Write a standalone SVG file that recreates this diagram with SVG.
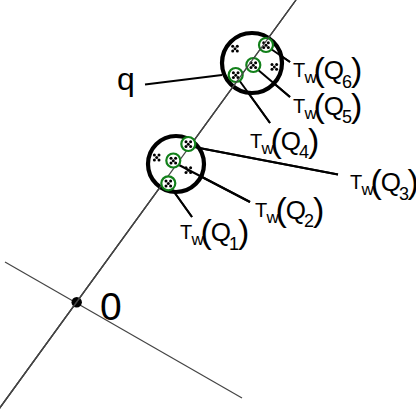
<svg xmlns="http://www.w3.org/2000/svg" width="416" height="409" viewBox="0 0 416 409">
<defs>
<style>
.axis{stroke:#444;stroke-width:1.2;fill:none}
.lead{stroke:#000;stroke-width:2;fill:none}
.big{stroke:#000;stroke-width:4.2;fill:#fff}
.grn{stroke:#12801a;stroke-width:2.2;fill:#fff}
.dot{fill:#000}
text{font-family:"Liberation Sans",Arial,sans-serif;fill:#000}
.t{font-size:20px}
.w{font-size:17px}
.p{font-size:34px}
.q{font-size:26px}
.s{font-size:18px}
</style>
<g id="cl">
<circle cx="-2.3" cy="-2.3" r="1.5"/><circle cx="2.3" cy="-2.3" r="1.5"/><circle cx="0" cy="0.2" r="1.5"/><circle cx="-2.3" cy="2.6" r="1.5"/><circle cx="2.3" cy="2.6" r="1.5"/>
</g>
</defs>
<rect width="416" height="409" fill="#fff"/>
<g id="connectors">
<line class="axis" x1="296" y1="0" x2="-1" y2="409"/>
<line class="axis" x1="5" y1="262" x2="242" y2="398"/>
<line class="lead" x1="145" y1="84.5" x2="222" y2="75"/>
<line class="lead" x1="271" y1="49" x2="290" y2="62"/>
<line class="lead" x1="257" y1="69" x2="290" y2="97"/>
<line class="lead" x1="239" y1="80" x2="270" y2="123"/>
<line class="lead" x1="194" y1="147" x2="338" y2="174.5"/>
<line class="lead" x1="179" y1="165" x2="250" y2="202"/>
<line class="lead" x1="172" y1="189" x2="192" y2="217"/>
</g>
<g id="origin"><circle cx="76.7" cy="302.3" r="5.2" class="dot"/></g>
<g id="set-upper">
<circle class="big" cx="252" cy="63" r="30"/>
<line class="axis" x1="296" y1="0" x2="-1" y2="409"/>
<use href="#cl" x="235" y="48.5"/>
<use href="#cl" x="274.3" y="66.7"/>
<line class="lead" x1="271" y1="49" x2="290" y2="62"/>
<line class="lead" x1="257" y1="69" x2="290" y2="97"/>
<line class="lead" x1="239" y1="80" x2="270" y2="123"/>
<circle class="grn" cx="266" cy="45" r="7"/><use href="#cl" x="266" y="45"/>
<circle class="grn" cx="253.3" cy="65" r="7"/><use href="#cl" x="253.3" y="65"/>
<circle class="grn" cx="235.7" cy="75" r="7"/><use href="#cl" x="235.7" y="75"/>
</g>
<g id="set-lower">
<circle class="big" cx="176" cy="164" r="28"/>
<line class="axis" x1="296" y1="0" x2="-1" y2="409"/>
<use href="#cl" x="156.7" y="157.3"/>
<line class="lead" x1="194" y1="147" x2="338" y2="174.5"/>
<line class="lead" x1="179" y1="165" x2="250" y2="202"/>
<line class="lead" x1="172" y1="189" x2="192" y2="217"/>
<use href="#cl" x="188.3" y="170"/>
<circle class="grn" cx="188.3" cy="144" r="7"/><use href="#cl" x="188.3" y="144"/>
<circle class="grn" cx="173.3" cy="160.5" r="7"/><use href="#cl" x="173.3" y="160.5"/>
<circle class="grn" cx="168.3" cy="183.3" r="7"/><use href="#cl" x="168.3" y="183.3"/>
</g>
<g id="label-q"><text x="117" y="90" font-size="32">q</text></g>
<g id="label-0"><text x="100" y="319.5" font-size="39">0</text></g>
<g id="label-Q6"><text><tspan class="t" x="293" y="77">T</tspan><tspan class="w" x="304.5" y="83">w</tspan><tspan class="p" x="313.6" y="81">(</tspan><tspan class="q" x="323.7" y="79">Q</tspan><tspan class="s" x="342" y="87.7">6</tspan><tspan class="p" x="351" y="81">)</tspan></text></g>
<g id="label-Q5"><text><tspan class="t" x="293" y="112.5">T</tspan><tspan class="w" x="304.5" y="118.5">w</tspan><tspan class="p" x="313.6" y="116.5">(</tspan><tspan class="q" x="323.7" y="114.5">Q</tspan><tspan class="s" x="342" y="123.2">5</tspan><tspan class="p" x="351" y="116.5">)</tspan></text></g>
<g id="label-Q4"><text><tspan class="t" x="250" y="147.5">T</tspan><tspan class="w" x="261.5" y="153.5">w</tspan><tspan class="p" x="270.6" y="151.5">(</tspan><tspan class="q" x="280.7" y="149.5">Q</tspan><tspan class="s" x="299" y="158.2">4</tspan><tspan class="p" x="308" y="151.5">)</tspan></text></g>
<g id="label-Q3"><text><tspan class="t" x="350" y="189.3">T</tspan><tspan class="w" x="361.5" y="195.3">w</tspan><tspan class="p" x="370.6" y="193.3">(</tspan><tspan class="q" x="380.7" y="191.3">Q</tspan><tspan class="s" x="399" y="200">3</tspan><tspan class="p" x="407.5" y="193.3">)</tspan></text></g>
<g id="label-Q2"><text><tspan class="t" x="255" y="216.5">T</tspan><tspan class="w" x="266.5" y="222.5">w</tspan><tspan class="p" x="275.6" y="220.5">(</tspan><tspan class="q" x="285.7" y="218.5">Q</tspan><tspan class="s" x="304" y="227.2">2</tspan><tspan class="p" x="313" y="220.5">)</tspan></text></g>
<g id="label-Q1"><text><tspan class="t" x="180" y="239.3">T</tspan><tspan class="w" x="191.5" y="245.3">w</tspan><tspan class="p" x="200.6" y="243.3">(</tspan><tspan class="q" x="210.7" y="241.3">Q</tspan><tspan class="s" x="229" y="250">1</tspan><tspan class="p" x="238" y="243.3">)</tspan></text></g>
</svg>
